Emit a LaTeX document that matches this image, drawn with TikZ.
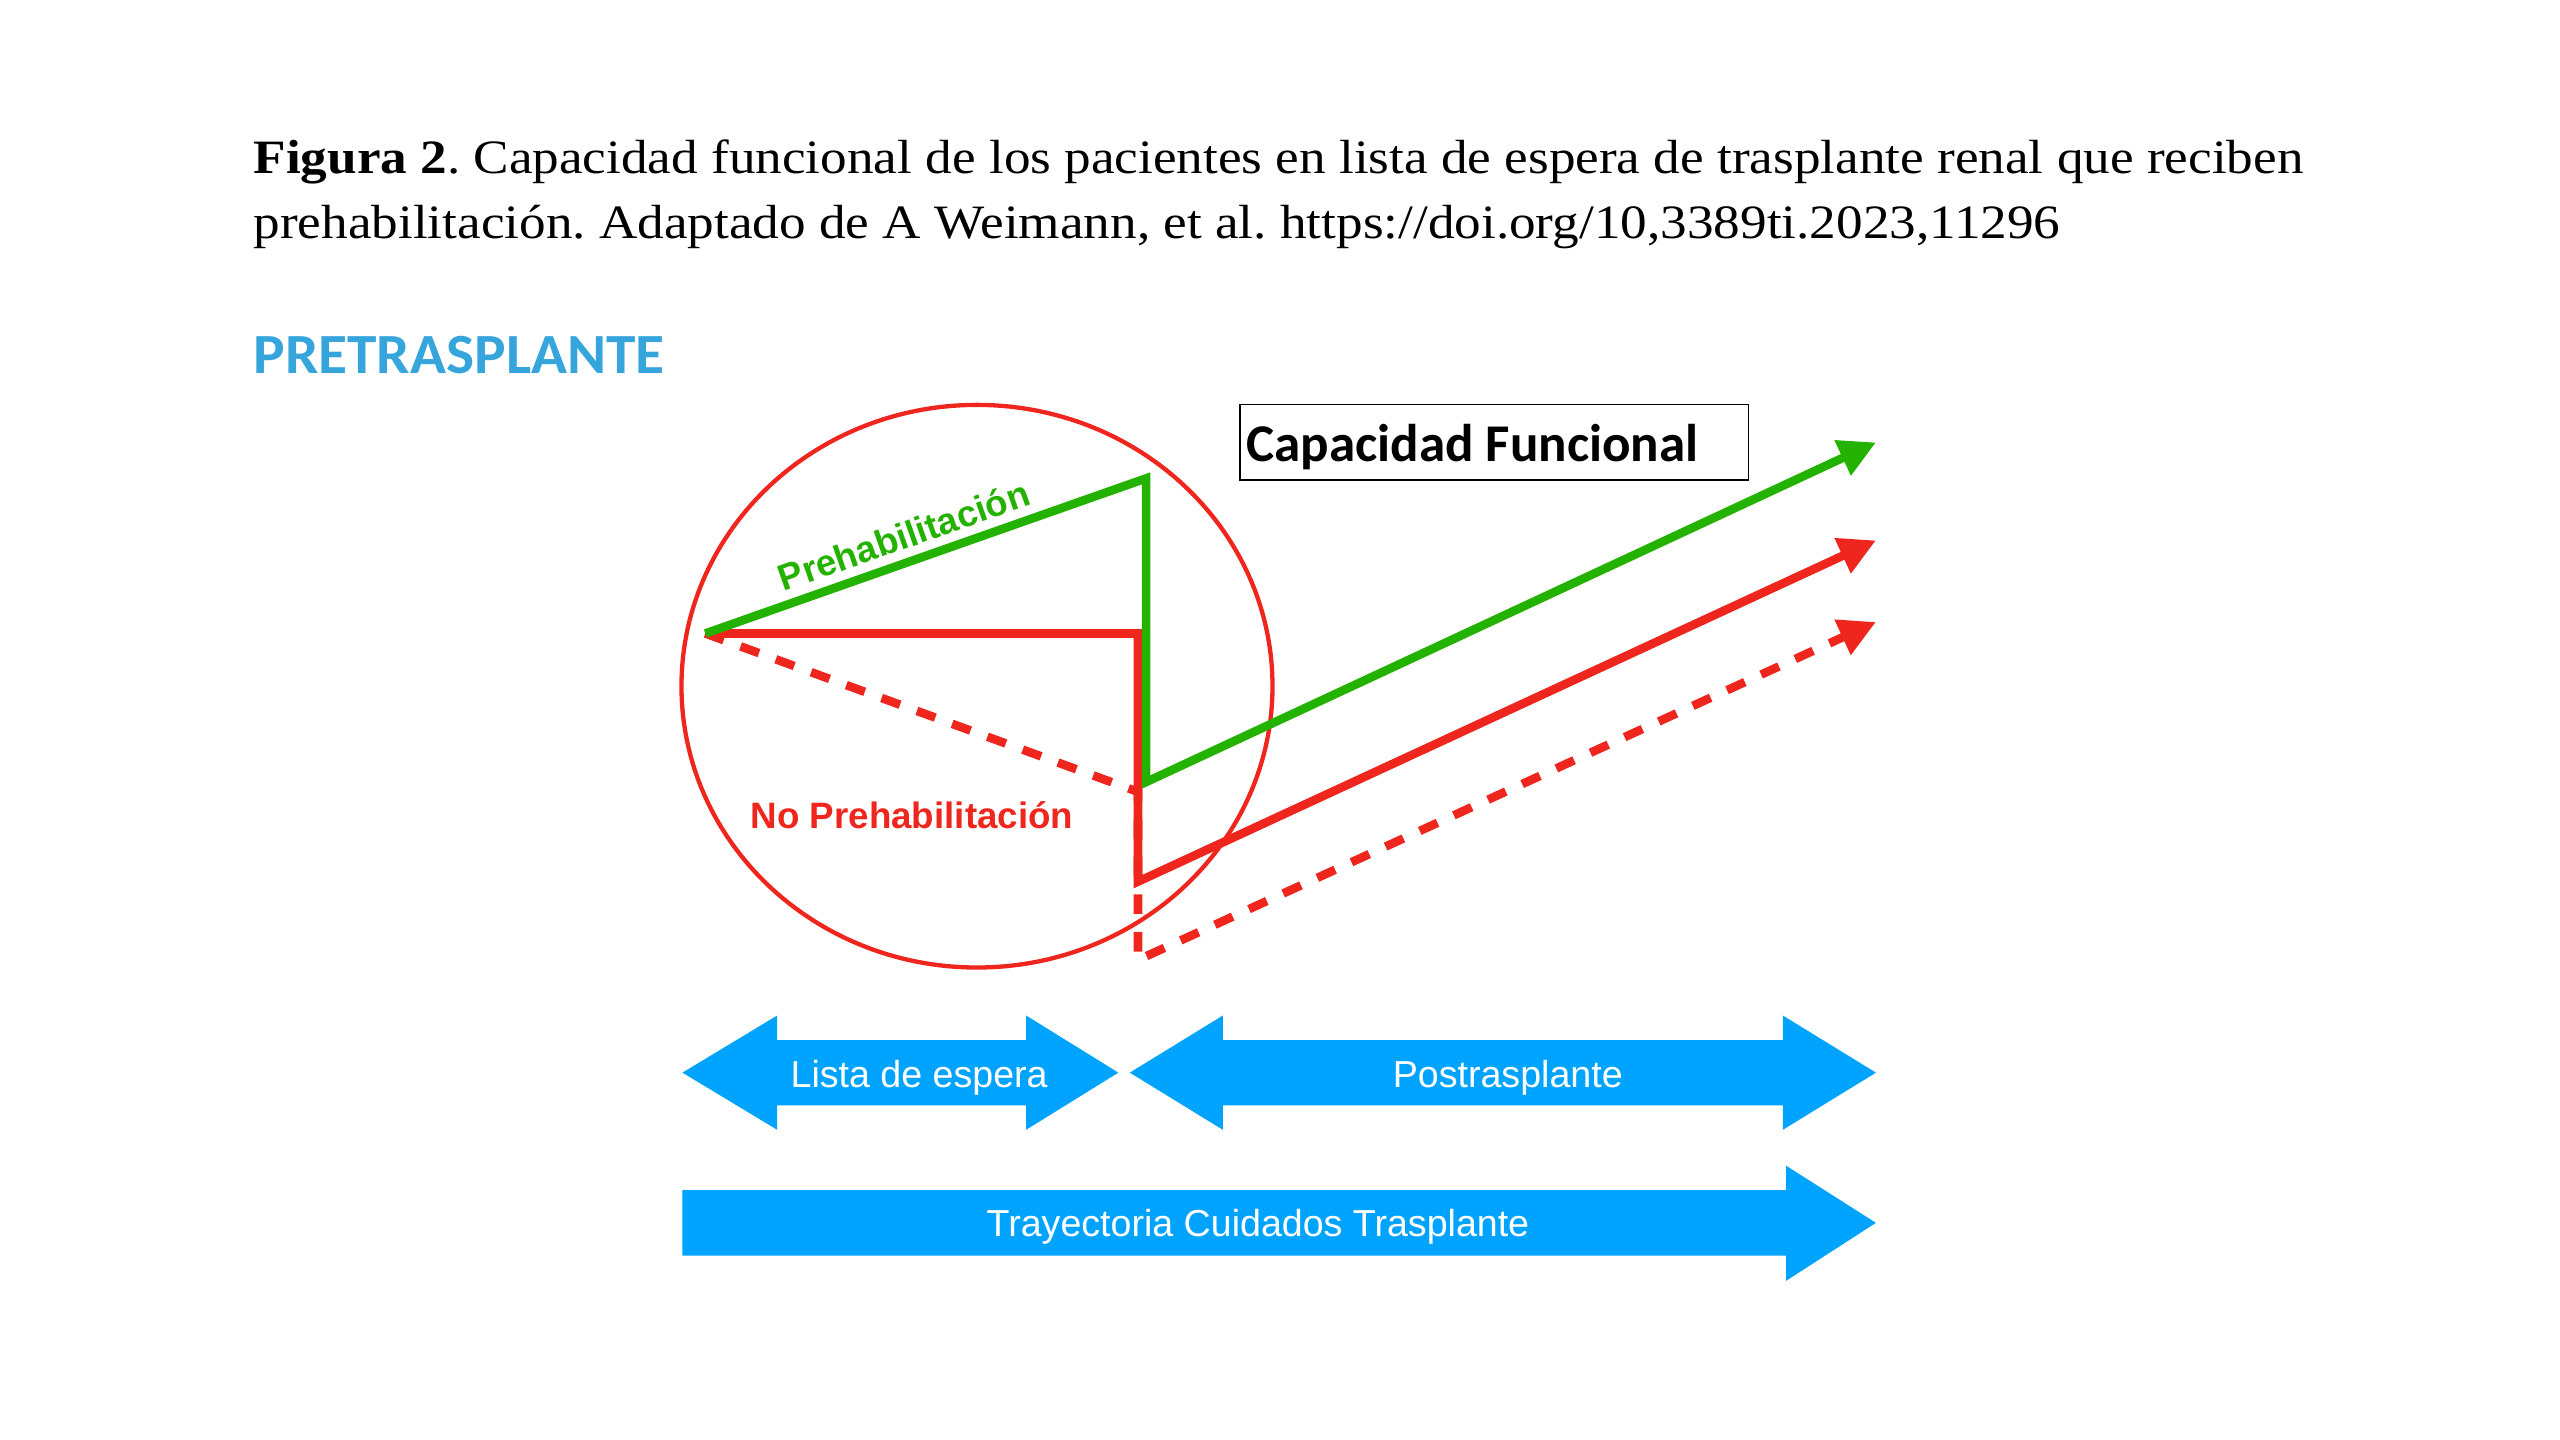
\documentclass[tikz,border=0pt]{standalone}
\usepackage{fontspec}
\setmainfont{Liberation Serif}
\newfontfamily\calibri{Carlito}
\newfontfamily\helvet{Liberation Sans}
\usetikzlibrary{arrows.meta}
\definecolor{verde}{RGB}{36,178,0}
\definecolor{rojo}{RGB}{238,38,30}
\definecolor{azul}{RGB}{0,164,255}
\definecolor{azultit}{RGB}{54,165,220}
\frenchspacing
\begin{document}
\begin{tikzpicture}[x=0.2mm, y=-0.2mm, >={Triangle[length=4.5mm, width=4.5mm]},
	curva/.style = {line width=3pt, ->},
	etiqueta/.style = {inner sep=0, font=\helvet\bfseries\fontsize{12.8}{15}\selectfont},
	flecha/.style = {fill=azul},
	texto flecha/.style = {anchor=base, inner sep=0, text=white, font=\helvet\fontsize{13.1}{16}\selectfont}]
	\useasboundingbox (0,0) rectangle (1568,882);
	% titulo
	\node[anchor=base west, inner sep=0] (tit1) at (155,106) {\fontsize{16.7}{20}\selectfont\scalebox{1.11}[1]{\textbf{Figura 2}. Capacidad funcional de los pacientes en lista de espera de trasplante renal que reciben}};
	\node[anchor=base west, inner sep=0] (tit2) at (155,146) {\fontsize{16.7}{20}\selectfont\scalebox{1.11}[1]{prehabilitación. Adaptado de A Weimann, et al. https://doi.org/10,3389ti.2023,11296}};
	\node[anchor=base west, inner sep=0, text=azultit] (pre) at (155,228.6) {\calibri\bfseries\fontsize{19.8}{24}\selectfont\scalebox{1.045}[1]{PRETRASPLANTE}};
	% circulo
	\draw[rojo, line width=1.5pt] (598.4,420.3) ellipse [x radius=181, y radius=172.3];
	% puntos de las curvas
	\coordinate (ini) at (432,388);
	\coordinate (gpico) at (702,293);
	\coordinate (gbaja) at (702,479);
	\coordinate (gfin) at (1149,271);
	\coordinate (resq) at (697,388);
	\coordinate (rbaja) at (697,540);
	\coordinate (rfin) at (1149,331);
	\coordinate (dmed) at (697,485);
	\coordinate (dbaja) at (697,588);
	\coordinate (dfin) at (1149,381);
	\draw[curva, rojo, dash pattern=on 2.4mm off 2.2mm] (ini) -- (dmed) -- (dbaja) -- (dfin);
	\draw[curva, rojo] (ini) -- (resq) -- (rbaja) -- (rfin);
	\draw[curva, verde] (ini) -- (gpico) -- (gbaja) -- (gfin);
	\path (ini) -- (gpico) node[etiqueta, pos=0.47, sloped, above=1.5mm, text=verde] (lpre) {Prehabilitación};
	\node[etiqueta, anchor=base, text=rojo] (lnopre) at (558.6,507.5) {No Prehabilitación};
	% recuadro
	\draw[black, line width=0.5pt] (759.6,247.6) rectangle (1071,294);
	\node[anchor=base west, inner sep=0] (capfun) at (763,282.8) {\calibri\bfseries\fontsize{18.5}{22}\selectfont Capacidad Funcional};
	% flechas azules
	\fill[flecha] (418,657) -- (476,622) -- (476,637) -- (628.5,637) -- (628.5,622) -- (685,657) -- (628.5,692) -- (628.5,677) -- (476,677) -- (476,692) -- cycle;
	\fill[flecha] (692,657) -- (749,622) -- (749,637) -- (1092,637) -- (1092,622) -- (1149,657) -- (1092,692) -- (1092,677) -- (749,677) -- (749,692) -- cycle;
	\fill[flecha] (418,729) -- (1094,729) -- (1094,714) -- (1149,749) -- (1094,784.5) -- (1094,769) -- (418,769) -- cycle;
	\node[texto flecha] (lista) at (563,666) {Lista de espera};
	\node[texto flecha] (post) at (923.5,666) {Postrasplante};
	\node[texto flecha] (tray) at (770.5,757.4) {Trayectoria Cuidados Trasplante};
\end{tikzpicture}
\end{document}
